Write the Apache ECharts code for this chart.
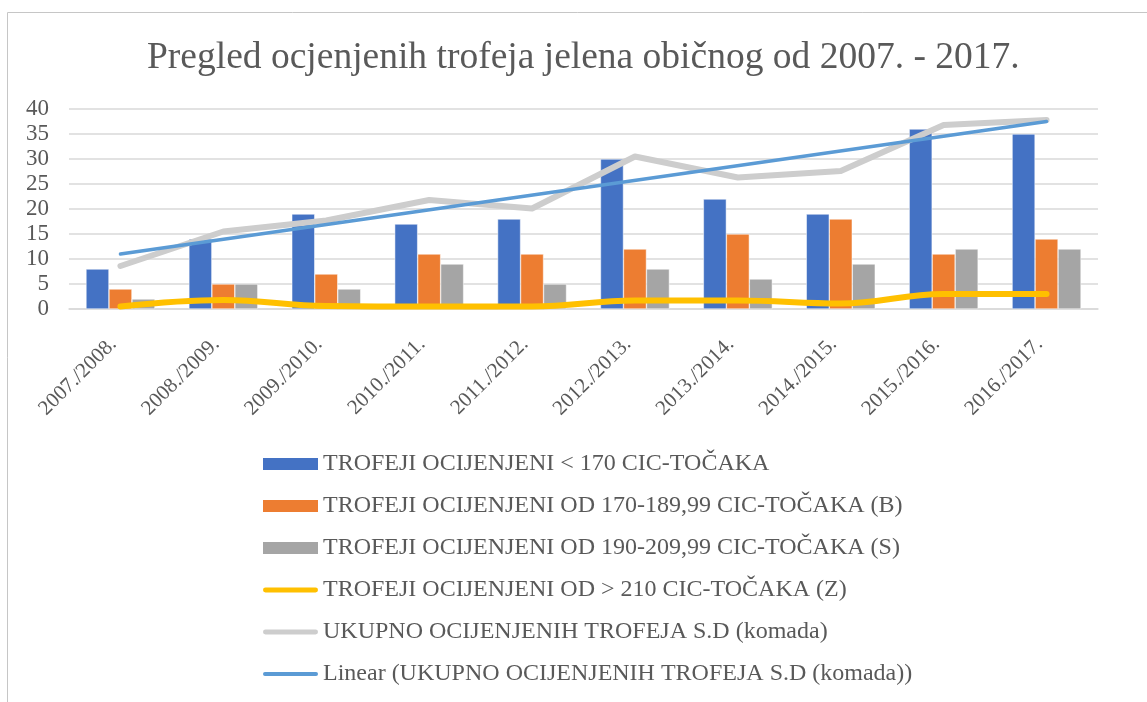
<!DOCTYPE html>
<html>
<head>
<meta charset="utf-8">
<script src="https://cdn.jsdelivr.net/npm/echarts@6/dist/echarts.min.js"></script>
<style>
html,body{margin:0;padding:0;background:#fff;}
#chart{width:1147px;height:702px;}
</style>
</head>
<body>
<div id="chart"></div>
<script>
const titleText = 'Pregled ocjenjenih trofeja jelena običnog od 2007. - 2017.';
const categories = ['2007./2008.','2008./2009.','2009./2010.','2010./2011.','2011./2012.','2012./2013.','2013./2014.','2014./2015.','2015./2016.','2016./2017.'];
const seriesNames = [
  'TROFEJI OCIJENJENI < 170 CIC-TOČAKA',
  'TROFEJI OCIJENJENI OD 170-189,99 CIC-TOČAKA (B)',
  'TROFEJI OCIJENJENI OD 190-209,99 CIC-TOČAKA (S)',
  'TROFEJI OCIJENJENI OD > 210 CIC-TOČAKA (Z)',
  'UKUPNO OCIJENJENIH TROFEJA S.D (komada)',
  'Linear (UKUPNO OCIJENJENIH TROFEJA S.D (komada))'
];
const below170 = [8, 14, 19, 17, 18, 30, 22, 19, 36, 35];
const b170to190 = [4, 5, 7, 11, 11, 12, 15, 18, 11, 14];
const s190to210 = [2, 5, 4, 9, 5, 8, 6, 9, 12, 12];
const zOver210 = [0.5, 1.8, 0.6, 0.5, 0.5, 1.7, 1.7, 1.1, 3.0, 3.0];
const totalTrophies = [8.6, 15.5, 17.7, 21.8, 20.1, 30.5, 26.3, 27.6, 36.8, 37.8];
const trendStart = 11.0;
const trendEnd = 37.5;
const yTicks = {min: 0, max: 40, interval: 5};

const font = '"Liberation Serif", "DejaVu Serif", serif';
const textColor = '#595959';
const thickLineIcon = 'path://M2.5,0 H53.5 A2.5,2.5 0 0 1 53.5,5 H2.5 A2.5,2.5 0 0 1 2.5,0 Z';
const thinLineIcon = 'path://M2,0 H54 A2,2 0 0 1 54,4 H2 A2,2 0 0 1 2,0 Z';

const chart = echarts.init(document.getElementById('chart'), null, {renderer: 'canvas'});
const barStyle = (c) => ({color: c, borderColor: '#ffffff', borderWidth: 0.5});
chart.setOption({
  animation: false,
  backgroundColor: '#ffffff',
  title: {
    text: titleText, left: 147, top: 39, padding: 0,
    textStyle: {fontFamily: font, fontSize: 37.5, fontWeight: 'normal', color: textColor}
  },
  graphic: [{
    type: 'rect', shape: {x: 7.5, y: 12.5, width: 1300, height: 800},
    style: {fill: 'none', stroke: '#c6c6c6', lineWidth: 1}, silent: true, z: -10
  }],
  grid: {left: 69, right: 49, top: 109, bottom: 393, containLabel: false},
  legend: {
    orient: 'vertical', left: 263, top: 452, itemGap: 18, padding: 0,
    itemWidth: 55, itemHeight: 12,
    textStyle: {fontFamily: font, fontSize: 24, color: textColor, lineHeight: 24},
    data: [
      {name: seriesNames[0], icon: 'rect', itemStyle: {borderWidth: 0}},
      {name: seriesNames[1], icon: 'rect', itemStyle: {borderWidth: 0}},
      {name: seriesNames[2], icon: 'rect', itemStyle: {borderWidth: 0}},
      {name: seriesNames[3], icon: thickLineIcon, itemStyle: {color: '#FFC000', borderWidth: 0}},
      {name: seriesNames[4], icon: thickLineIcon, itemStyle: {color: '#CDCDCD', borderWidth: 0}},
      {name: seriesNames[5], icon: thinLineIcon, itemStyle: {color: '#5B9BD5', borderWidth: 0}}
    ]
  },
  xAxis: {
    type: 'category', data: categories,
    axisLine: {lineStyle: {color: '#d9d9d9', width: 1.5}},
    axisTick: {show: false},
    axisLabel: {rotate: 45, margin: 25, padding: [0, 10, 0, 0], fontFamily: font, fontSize: 21, color: textColor, interval: 0}
  },
  yAxis: {
    type: 'value', min: yTicks.min, max: yTicks.max, interval: yTicks.interval,
    axisLine: {show: false}, axisTick: {show: false},
    splitLine: {lineStyle: {color: '#d9d9d9', width: 1.5}},
    axisLabel: {margin: 20, fontFamily: font, fontSize: 23, color: textColor}
  },
  series: [
    {name: seriesNames[0], type: 'bar', data: below170, barGap: '0%', barCategoryGap: '33%', itemStyle: barStyle('#4472C4'), z: 2},
    {name: seriesNames[1], type: 'bar', data: b170to190, itemStyle: barStyle('#ED7D31'), z: 2},
    {name: seriesNames[2], type: 'bar', data: s190to210, itemStyle: barStyle('#A5A5A5'), z: 2},
    {name: seriesNames[3], type: 'line', data: zOver210, smooth: 0.4, symbol: 'none', z: 3,
      itemStyle: {color: '#FFC000'},
      lineStyle: {color: '#FFC000', width: 6, cap: 'round', join: 'round'}},
    {name: seriesNames[4], type: 'line', data: totalTrophies, symbol: 'none', z: 4,
      itemStyle: {color: '#CDCDCD'},
      lineStyle: {color: '#CDCDCD', width: 6, cap: 'round', join: 'round'}},
    {name: seriesNames[5], type: 'line', data: [[0, trendStart], [categories.length - 1, trendEnd]], symbol: 'none', z: 5,
      itemStyle: {color: '#5B9BD5'},
      lineStyle: {color: '#5B9BD5', width: 3.5, cap: 'round', join: 'round'}}
  ]
});
</script>
</body>
</html>
